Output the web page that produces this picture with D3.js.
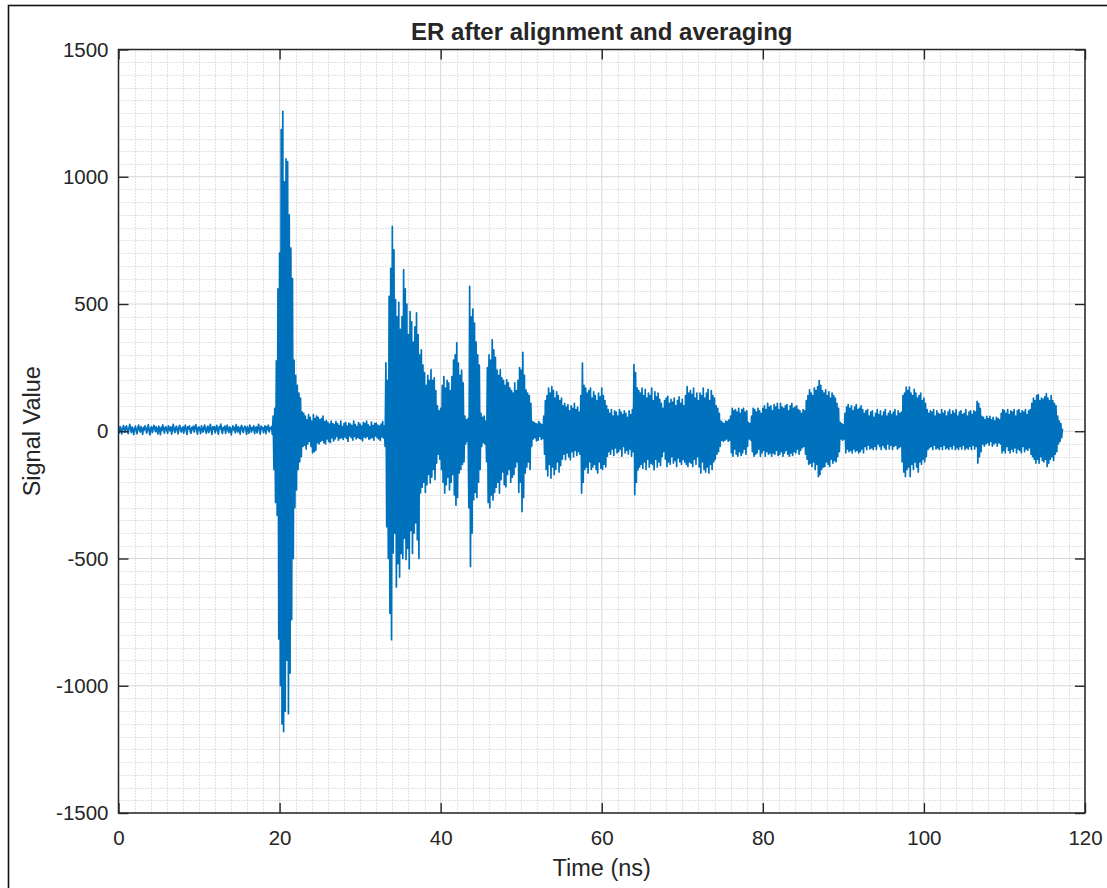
<!DOCTYPE html>
<html><head><meta charset="utf-8">
<script src="https://cdn.jsdelivr.net/npm/d3@7"></script>
<style>
body{margin:0;background:#fff}
svg{display:block}
text{font-family:"Liberation Sans",Arial,Helvetica,sans-serif;fill:#262626}
</style>
</head><body>
<svg id="chart" width="1107" height="888"></svg>
<script>
// ---- chart text & ticks ----
const titleText = "ER after alignment and averaging";
const xLabelText = "Time (ns)";
const yLabelText = "Signal Value";
const xTickValues = [0, 20, 40, 60, 80, 100, 120];
const yTickValues = [-1500, -1000, -500, 0, 500, 1000, 1500];
const xDomain = [0, 120];
const yDomain = [-1500, 1500];

// ---- signal samples, one sample every 0.1 ns ----
const sampleStep = 0.1;
const seg00 = [
 8,-6,18,12,-10,5,22,14,-4,16,
 21,3,-9,12,27,9,-5,17,6,-13,
 11,20,2,-10,14,24,6,-3,18,8,
 -12,15,5,21,12,-7,9,26,3,-14,
 12,18,-5,8,23,14,-2,17,6,-10,
 20,9,-13,15,3,25,11,-7,14,18,
 5,-8,21,12,2,17,-11,9,27,6,
 -5,14,20,3,-10,15,23,8,-3,12,
 18,-7,11,24,5,-12,17,9,21,2,
 -8,15,6,20,-3,12,26,8,-11,14];
const seg10 = [
 17,5,-9,21,11,-3,15,24,3,-8,
 14,20,-5,9,27,6,-12,17,8,18,
 -6,12,23,2,-11,18,9,28,5,-9,
 15,6,20,-8,12,24,3,-5,17,11,
 -14,9,21,5,15,-6,26,12,-3,18,
 8,-11,17,23,3,-5,14,20,9,-12,
 18,6,-8,24,12,-3,15,5,21,-9,
 11,17,-6,14,27,3,-11,20,8,15,
 -5,12,21,-9,17,6,24,-3,14,9,
 18,-12,60,-150,90,-280,277,-330,560,-816];
const seg20 = [
 700,-1000,1185,-1150,1257,-1180,980,-1100,1070,-900,
 1060,-1110,850,-950,720,-740,600,-500,280,-300,
 220,-230,180,-150,150,-120,130,-100,75,-60,
 70,-55,60,-70,45,-50,65,-40,55,-60,
 40,-85,65,-80,50,-75,60,-45,55,-50,
 45,-40,50,-35,60,-45,38,-50,42,-30,
 35,-40,28,-45,40,-25,30,-38,25,-30,
 38,-20,30,-35,22,-28,40,-25,18,-32,
 30,-22,35,-28,20,-40,32,-18,28,-25,
 22,-35,40,-20,26,-30,18,-24,34,-28];
const seg30 = [
 28,-30,20,-38,35,-22,30,-26,40,-20,
 25,-32,18,-28,36,-24,22,-35,30,-18,
 32,-25,24,-30,20,-36,28,-22,38,-26,
 20,-60,269,-375,200,-500,530,-715,640,-819,
 805,-478,713,-400,517,-612,450,-520,506,-573,
 400,-480,450,-500,635,-420,560,-504,500,-460,
 380,-540,470,-390,430,-480,350,-400,410,-360,
 465,-426,380,-500,300,-242,320,-220,260,-200,
 230,-240,180,-210,220,-170,200,-203,242,-180,
 200,-150,210,-190,160,-125,100,-90,80,-110];
const seg40 = [
 90,-150,180,-200,215,-243,170,-210,200,-180,
 190,-230,160,-200,215,-170,280,-250,300,-290,
 347,-260,268,-164,220,-150,240,-130,190,-120,
 60,-50,45,-40,50,-300,569,-531,450,-400,
 480,-269,425,-240,350,-260,300,-200,260,-150,
 70,-60,55,-45,60,-50,40,-120,250,-280,
 300,-300,280,-250,360,-270,320,-240,290,-220,
 240,-200,220,-243,242,-190,210,-160,200,-210,
 180,-218,202,-170,190,-150,170,-200,160,-180,
 150,-170,190,-140,160,-120,200,-240,250,-200];
const seg50 = [
 240,-315,310,-260,220,-164,162,-140,150,-120,
 140,-150,110,-60,38,-30,35,-25,30,-38,
 28,-35,38,-20,30,-32,25,-28,60,-90,
 120,-150,140,-175,170,-130,150,-184,175,-140,
 160,-170,130,-150,155,-120,140,-160,120,-135,
 130,-110,100,-90,110,-112,95,-85,105,-100,
 80,-112,100,-80,90,-100,110,-75,85,-95,
 95,-80,75,-90,140,-243,268,-200,180,-150,
 170,-140,150,-164,160,-120,170,-150,130,-140,
 155,-130,140,-150,120,-164,150,-120,135,-145];
const seg60 = [
 170,-150,140,-130,120,-140,100,-98,85,-80,
 70,-90,85,-70,60,-95,80,-65,75,-85,
 60,-80,85,-70,75,-98,65,-60,80,-85,
 70,-75,55,-90,80,-70,65,-98,85,-80,
 262,-249,230,-200,170,-151,160,-140,150,-130,
 170,-145,140,-120,165,-150,130,-110,150,-140,
 140,-125,170,-130,120,-151,155,-110,135,-140,
 150,-120,125,-135,110,-100,90,-80,120,-110,
 130,-138,137,-120,110,-130,125,-100,115,-125,
 130,-115,100,-138,120,-105,135,-120,110,-130];
const seg70 = [
 125,-110,100,-120,140,-130,175,-138,150,-120,
 160,-125,145,-138,170,-110,130,-130,150,-100,
 120,-140,150,-164,140,-120,170,-150,130,-160,
 150,-140,165,-164,120,-130,160,-150,140,-120,
 130,-110,100,-90,90,-80,70,-60,40,-35,
 35,-40,30,-35,40,-30,38,-40,45,-35,
 60,-85,90,-98,80,-70,85,-90,75,-98,
 90,-80,70,-95,85,-85,90,-70,75,-90,
 80,-60,35,-30,30,-35,60,-80,90,-98,
 85,-90,75,-85,90,-70,80,-98,70,-85];
const seg80 = [
 90,-75,100,-98,85,-80,110,-90,95,-85,
 100,-98,80,-85,105,-90,95,-75,110,-95,
 85,-90,110,-80,95,-98,90,-85,100,-75,
 105,-90,80,-98,100,-85,110,-95,90,-80,
 95,-85,100,-70,85,-90,80,-75,70,-65,
 85,-60,80,-90,120,-110,140,-130,163,-125,
 150,-138,140,-120,170,-150,160,-130,175,-178,
 199,-170,180,-150,160,-140,150,-138,163,-120,
 140,-130,155,-138,130,-110,150,-125,140,-115,
 130,-120,110,-100,90,-80,35,-30,30,-35];
const seg90 = [
 25,-30,70,-85,95,-70,105,-80,90,-75,
 100,-85,80,-70,95,-80,105,-75,85,-85,
 90,-80,100,-70,85,-85,70,-60,80,-72,
 85,-55,60,-70,75,-65,80,-72,55,-60,
 70,-72,85,-50,65,-60,80,-72,60,-55,
 75,-65,85,-72,60,-50,70,-70,80,-55,
 65,-72,75,-60,85,-55,60,-70,80,-65,
 70,-60,75,-120,140,-160,150,-178,173,-150,
 160,-140,173,-178,150,-130,140,-150,165,-120,
 150,-140,130,-160,140,-120,150,-130,120,-110];
const seg100 = [
 130,-120,110,-100,85,-72,70,-65,80,-60,
 75,-72,85,-55,60,-70,80,-65,70,-72,
 65,-60,85,-72,70,-55,80,-70,60,-65,
 75,-72,85,-60,65,-70,80,-55,70,-72,
 85,-65,60,-72,75,-60,80,-70,65,-55,
 70,-72,85,-65,60,-70,75,-60,80,-72,
 65,-55,80,-70,75,-60,117,-125,110,-100,
 90,-80,59,-50,55,-59,45,-50,59,-45,
 50,-55,59,-40,45,-59,55,-50,40,-45,
 55,-59,50,-45,45,-50,70,-85,85,-75];
const seg110 = [
 80,-85,70,-60,85,-75,65,-85,80,-70,
 75,-80,85,-65,60,-85,80,-70,85,-75,
 70,-85,80,-60,75,-80,85,-70,65,-75,
 80,-65,85,-90,110,-100,130,-110,120,-125,
 140,-110,144,-125,120,-100,130,-115,125,-120,
 135,-110,148,-138,130,-125,120,-110,140,-100,
 120,-115,110,-90,100,-80,60,-50,40,-40,
 30,-25,10];
const segmentStarts = [0, 10, 20, 30, 40, 50, 60, 70, 80, 90, 100, 110];
const segmentValues = [seg00, seg10, seg20, seg30, seg40, seg50, seg60, seg70, seg80, seg90, seg100, seg110];

// ---- build points ----
const points = [];
segmentValues.forEach((arr, i) => {
  arr.forEach((v, k) => points.push({t: segmentStarts[i] + k * sampleStep, v}));
});

// ---- layout ----
const svg = d3.select("#chart");
const L = 118.5, R = 1085, T = 49.5, B = 813;
const x = d3.scaleLinear().domain(xDomain).range([L, R]);
const y = d3.scaleLinear().domain(yDomain).range([B, T]);

// figure border
svg.append("rect").attr("x", 8.5).attr("y", 5.5).attr("width", 1300).attr("height", 1000)
  .attr("fill", "none").attr("stroke", "#111").attr("stroke-width", 1.6);

// axes background
svg.append("rect").attr("x", L).attr("y", T).attr("width", R - L).attr("height", B - T).attr("fill", "#fff");

// minor grid
const gMinor = svg.append("g");
const xMinor = d3.range(xDomain[0], xDomain[1] + 0.001, 2).filter(v => v % 20 !== 0);
const yMinor = d3.range(yDomain[0], yDomain[1] + 0.001, 50).filter(v => v % 500 !== 0);
gMinor.selectAll("line.xm").data(xMinor).join("line")
  .attr("x1", d => Math.round(x(d)) + 0.5).attr("x2", d => Math.round(x(d)) + 0.5)
  .attr("y1", T).attr("y2", B)
  .attr("stroke", "#c4c4c4").attr("stroke-width", 1).attr("stroke-dasharray", "1,2");
gMinor.selectAll("line.ym").data(yMinor).join("line")
  .attr("y1", d => Math.round(y(d)) + 0.5).attr("y2", d => Math.round(y(d)) + 0.5)
  .attr("x1", L).attr("x2", R)
  .attr("stroke", "#c4c4c4").attr("stroke-width", 1).attr("stroke-dasharray", "1,2");

// major grid
const gMajor = svg.append("g");
gMajor.selectAll("line.xg").data(xTickValues).join("line")
  .attr("x1", d => x(d)).attr("x2", d => x(d)).attr("y1", T).attr("y2", B)
  .attr("stroke", "#d6d6d6").attr("stroke-width", 1);
gMajor.selectAll("line.yg").data(yTickValues).join("line")
  .attr("y1", d => y(d)).attr("y2", d => y(d)).attr("x1", L).attr("x2", R)
  .attr("stroke", "#d6d6d6").attr("stroke-width", 1);

// signal
svg.append("clipPath").attr("id", "clip").append("rect")
  .attr("x", L).attr("y", T).attr("width", R - L).attr("height", B - T);
const line = d3.line().x(d => x(d.t)).y(d => y(d.v));
svg.append("path").datum(points)
  .attr("clip-path", "url(#clip)")
  .attr("d", line)
  .attr("fill", "none").attr("stroke", "#0072BD").attr("stroke-width", 1.7)
  .attr("stroke-linejoin", "round");

// axes
const tickLen = 10;
const axisColor = "#262626";
const fmt = d => String(d);
function styleAxis(g, showLabels) {
  g.select(".domain").remove();
  g.selectAll(".tick line").attr("stroke", axisColor).attr("stroke-width", 1.4);
  g.selectAll(".tick text").attr("fill", "#262626").style("font-size", "20.5px")
    .style("font-family", '"Liberation Sans", Arial, sans-serif');
  if (!showLabels) g.selectAll(".tick text").remove();
}
svg.append("g").attr("transform", `translate(0,${B})`)
  .call(d3.axisBottom(x).tickValues(xTickValues).tickFormat(fmt).tickSize(-tickLen).tickPadding(17))
  .call(g => styleAxis(g, true));
svg.append("g").attr("transform", `translate(${L},0)`)
  .call(d3.axisLeft(y).tickValues(yTickValues).tickFormat(fmt).tickSize(-tickLen).tickPadding(10))
  .call(g => styleAxis(g, true));
svg.append("g").attr("transform", `translate(0,${T})`)
  .call(d3.axisTop(x).tickValues(xTickValues).tickSize(-tickLen))
  .call(g => styleAxis(g, false));
svg.append("g").attr("transform", `translate(${R},0)`)
  .call(d3.axisRight(y).tickValues(yTickValues).tickSize(-tickLen))
  .call(g => styleAxis(g, false));

// axes box
svg.append("rect").attr("x", L).attr("y", T).attr("width", R - L).attr("height", B - T)
  .attr("fill", "none").attr("stroke", axisColor).attr("stroke-width", 1.5);

// title and labels
svg.append("text").attr("x", (L + R) / 2).attr("y", 40).attr("text-anchor", "middle")
  .style("font-size", "24px").style("font-weight", "bold").attr("fill", "#000").text(titleText);
svg.append("text").attr("x", (L + R) / 2).attr("y", 876).attr("text-anchor", "middle")
  .style("font-size", "23.5px").text(xLabelText);
svg.append("text").attr("transform", `translate(40,${(T + B) / 2}) rotate(-90)`).attr("text-anchor", "middle")
  .style("font-size", "23.5px").text(yLabelText);
</script>
</body></html>
